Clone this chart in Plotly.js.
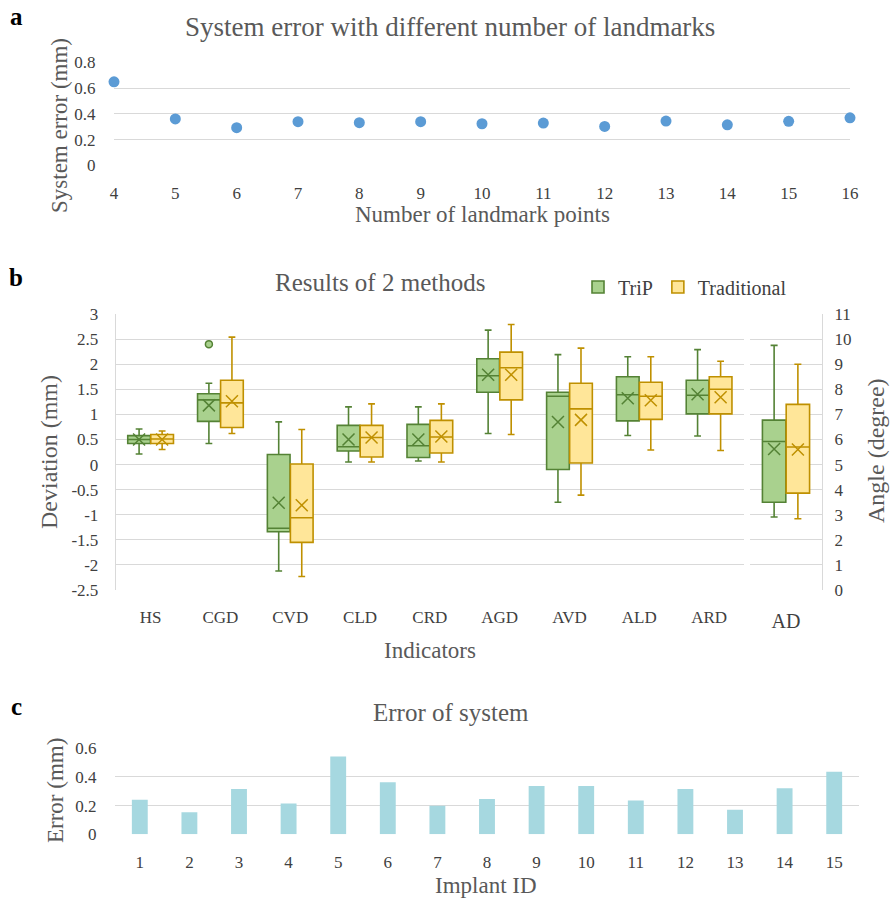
<!DOCTYPE html>
<html>
<head>
<meta charset="utf-8">
<script src="https://cdn.plot.ly/plotly-3.0.1.min.js"></script>
<style>html,body{margin:0;padding:0;background:#fff;}#chart{width:896px;height:898px;}</style>
</head>
<body>
<div id="chart"></div>
<script>
// ---------- Panel a data ----------
const landmarkN = [4, 5, 6, 7, 8, 9, 10, 11, 12, 13, 14, 15, 16];
const sysError = [0.649, 0.360, 0.292, 0.339, 0.331, 0.339, 0.323, 0.328, 0.302, 0.344, 0.315, 0.342, 0.369];
const sysErrTicks = [0, 0.2, 0.4, 0.6, 0.8];
const sysErrTickText = ['0', '0.2', '0.4', '0.6', '0.8'];

// ---------- Panel b data (mm) ----------
const indicators = ['HS', 'CGD', 'CVD', 'CLD', 'CRD', 'AGD', 'AVD', 'ALD', 'ARD'];
const tripLower  = [0.21, 0.42, -2.12, 0.05, 0.07, 0.62, -0.75, 0.58, 0.57];
const tripQ1     = [0.42, 0.86, -1.34, 0.27, 0.14, 1.44, -0.10, 0.87, 1.01];
const tripMedian = [0.50, 1.29, -1.27, 0.355, 0.375, 1.77, 1.36, 1.39, 1.38];
const tripQ3     = [0.576, 1.41, 0.20, 0.78, 0.80, 2.11, 1.44, 1.75, 1.68];
const tripUpper  = [0.71, 1.62, 0.85, 1.15, 1.15, 2.68, 2.19, 2.15, 2.29];
const tripMean   = [0.50, 1.18, -0.76, 0.50, 0.50, 1.79, 0.85, 1.32, 1.40];
const tripOutlierCat = ['CGD'];
const tripOutlierVal = [2.40];

const tradLower  = [0.30, 0.62, -2.23, 0.05, 0.05, 0.60, -0.61, 0.29, 0.28];
const tradQ1     = [0.42, 0.74, -1.55, 0.15, 0.23, 1.29, 0.03, 0.90, 1.01];
const tradMedian = [0.51, 1.23, -1.06, 0.54, 0.55, 1.93, 1.11, 1.36, 1.50];
const tradQ3     = [0.60, 1.68, 0.01, 0.78, 0.88, 2.24, 1.62, 1.64, 1.75];
const tradUpper  = [0.67, 2.54, 0.70, 1.21, 1.21, 2.79, 2.32, 2.15, 2.06];
const tradMean   = [0.50, 1.26, -0.81, 0.54, 0.56, 1.79, 0.89, 1.28, 1.34];

const devTicks = [-2.5, -2, -1.5, -1, -0.5, 0, 0.5, 1, 1.5, 2, 2.5, 3];
const devTickText = ['-2.5', '-2', '-1.5', '-1', '-0.5', '0', '0.5', '1', '1.5', '2', '2.5', '3'];

// AD (degree)
const adCat = ['AD'];
const adTrip = {lower: [2.91], q1: [3.50], median: [5.92], q3: [6.77], upper: [9.75], mean: [5.62]};
const adTrad = {lower: [2.84], q1: [3.86], median: [5.70], q3: [7.40], upper: [9.00], mean: [5.60]};
const angleTicks = [0, 1, 2, 3, 4, 5, 6, 7, 8, 9, 10, 11];

// ---------- Panel c data ----------
const implantID = [1, 2, 3, 4, 5, 6, 7, 8, 9, 10, 11, 12, 13, 14, 15];
const implantErr = [0.240, 0.154, 0.315, 0.215, 0.542, 0.362, 0.198, 0.245, 0.336, 0.336, 0.236, 0.315, 0.170, 0.321, 0.436];
const errTicks = [0, 0.2, 0.4, 0.6];
const errTickText = ['0', '0.2', '0.4', '0.6'];

// ---------- styling ----------
const W = 896, H = 898;
const px = x => x / W;
const py = y => 1 - y / H;
const FONT = 'Liberation Serif, Times New Roman, serif';
const GRID = '#D9D9D9';
const TXT = '#595959';
const TICK = '#404040';
const greenFill = '#A9D18E', greenLine = '#548235';
const goldFill = '#FFE699', goldLine = '#BF9000';
const OFF = 0.165, BW = 0.325;

const catIdx = indicators.map((c, i) => i);
const xTrip = catIdx.map(i => i - OFF);
const xTrad = catIdx.map(i => i + OFF);
const outX = tripOutlierCat.map(c => indicators.indexOf(c) - OFF);

const meanMarker = col => ({symbol: 'x-thin-open', size: 12, color: col, line: {color: col, width: 1.5}});

const traces = [
  // panel a
  {type: 'scatter', mode: 'markers', x: landmarkN, y: sysError, xaxis: 'x', yaxis: 'y',
   marker: {color: '#5B9BD5', size: 11}, cliponaxis: false, showlegend: false},
  // panel b boxes
  {type: 'box', name: 'TriP', x: xTrip, q1: tripQ1, median: tripMedian, q3: tripQ3,
   lowerfence: tripLower, upperfence: tripUpper, width: BW, whiskerwidth: 0.3, boxpoints: false,
   fillcolor: greenFill, line: {color: greenLine, width: 1.6}, xaxis: 'x2', yaxis: 'y2'},
  {type: 'box', name: 'Traditional', x: xTrad, q1: tradQ1, median: tradMedian, q3: tradQ3,
   lowerfence: tradLower, upperfence: tradUpper, width: BW, whiskerwidth: 0.3, boxpoints: false,
   fillcolor: goldFill, line: {color: goldLine, width: 1.6}, xaxis: 'x2', yaxis: 'y2'},
  {type: 'scatter', mode: 'markers', x: xTrip, y: tripMean, xaxis: 'x2', yaxis: 'y2', showlegend: false,
   marker: meanMarker(greenLine)},
  {type: 'scatter', mode: 'markers', x: xTrad, y: tradMean, xaxis: 'x2', yaxis: 'y2', showlegend: false,
   marker: meanMarker(goldLine)},
  {type: 'scatter', mode: 'markers', x: outX, y: tripOutlierVal, xaxis: 'x2', yaxis: 'y2', showlegend: false,
   marker: {symbol: 'circle', size: 7, color: greenFill, line: {color: greenLine, width: 1.5}}},
  // AD
  {type: 'box', name: 'TriP', x: [-OFF], q1: adTrip.q1, median: adTrip.median, q3: adTrip.q3,
   lowerfence: adTrip.lower, upperfence: adTrip.upper, width: BW, whiskerwidth: 0.3, boxpoints: false,
   fillcolor: greenFill, line: {color: greenLine, width: 1.6}, xaxis: 'x3', yaxis: 'y3', showlegend: false},
  {type: 'box', name: 'Traditional', x: [OFF], q1: adTrad.q1, median: adTrad.median, q3: adTrad.q3,
   lowerfence: adTrad.lower, upperfence: adTrad.upper, width: BW, whiskerwidth: 0.3, boxpoints: false,
   fillcolor: goldFill, line: {color: goldLine, width: 1.6}, xaxis: 'x3', yaxis: 'y3', showlegend: false},
  {type: 'scatter', mode: 'markers', x: [-OFF], y: adTrip.mean, xaxis: 'x3', yaxis: 'y3', showlegend: false,
   marker: meanMarker(greenLine)},
  {type: 'scatter', mode: 'markers', x: [OFF], y: adTrad.mean, xaxis: 'x3', yaxis: 'y3', showlegend: false,
   marker: meanMarker(goldLine)},
  // panel c
  {type: 'bar', x: implantID, y: implantErr, xaxis: 'x4', yaxis: 'y4', showlegend: false,
   marker: {color: '#A6D8E0'}}
];

const tickFont = {family: FONT, size: 17, color: TICK};
const hidTick = {ticks: 'outside', tickcolor: 'rgba(0,0,0,0)'};

const layout = {
  width: W, height: H,
  margin: {l: 0, r: 0, t: 0, b: 0},
  paper_bgcolor: '#fff', plot_bgcolor: 'rgba(0,0,0,0)',
  font: {family: FONT, color: TXT},
  showlegend: true,
  boxmode: 'overlay',
  bargap: 0.68,
  legend: {orientation: 'h', x: px(578), y: py(287), xanchor: 'left', yanchor: 'middle',
           font: {family: FONT, size: 20, color: TICK}, bgcolor: 'rgba(0,0,0,0)', itemwidth: 30,
           traceorder: 'normal'},
  // panel a
  xaxis: {domain: [px(114), px(850)], range: [4, 16], tickvals: landmarkN, showgrid: false, zeroline: false,
          showline: false, tickfont: tickFont, ...hidTick, ticklen: 12, anchor: 'y'},
  yaxis: {domain: [py(165.3), py(62.3)], range: [0, 0.8005], tickvals: sysErrTicks, ticktext: sysErrTickText,
          gridcolor: GRID, gridwidth: 1, zeroline: false, showline: false, tickfont: tickFont,
          ...hidTick, ticklen: 14, anchor: 'x'},
  // panel b left
  xaxis2: {domain: [px(115.7), px(744)], range: [-0.5, 8.5], tickvals: catIdx, ticktext: indicators,
           showgrid: false, zeroline: false, showline: false, tickfont: tickFont, ...hidTick, ticklen: 12, anchor: 'y2'},
  yaxis2: {domain: [py(590), py(314)], range: [-2.5, 3.0005], tickvals: devTicks, ticktext: devTickText,
           gridcolor: GRID, zeroline: false, showline: true, linecolor: GRID, linewidth: 1,
           tickfont: tickFont, ...hidTick, ticklen: 13, anchor: 'x2'},
  // panel b AD
  xaxis3: {domain: [px(750), px(822)], range: [-0.5, 0.5], tickvals: [0], ticktext: adCat,
           showgrid: false, zeroline: false, showline: false, tickfont: {family: FONT, size: 20, color: TICK},
           ...hidTick, ticklen: 13, anchor: 'y3'},
  yaxis3: {domain: [py(590), py(314)], range: [0, 11.001], tickvals: angleTicks, side: 'right', gridcolor: GRID,
           zeroline: false, showline: true, linecolor: GRID, linewidth: 1, tickfont: tickFont,
           ...hidTick, ticklen: 8, anchor: 'x3'},
  // panel c
  xaxis4: {domain: [px(115), px(859)], range: [0.5, 15.5], tickvals: implantID, showgrid: false, zeroline: false,
           showline: false, tickfont: tickFont, ...hidTick, ticklen: 12, anchor: 'y4'},
  yaxis4: {domain: [py(834.3), py(748)], range: [0, 0.6005], tickvals: errTicks, ticktext: errTickText,
           gridcolor: GRID, zeroline: false, showline: false, tickfont: tickFont, ...hidTick, ticklen: 14, anchor: 'x4'},
  annotations: [
    // panel labels
    {text: '<b>a</b>', x: px(16), y: py(16), font: {family: FONT, size: 25, color: '#000'}},
    {text: '<b>b</b>', x: px(16), y: py(277), font: {family: FONT, size: 25, color: '#000'}},
    {text: '<b>c</b>', x: px(16), y: py(706), font: {family: FONT, size: 25, color: '#000'}},
    // titles
    {text: 'System error with different number of landmarks', x: px(450), y: py(27), font: {family: FONT, size: 27, color: TXT}},
    {text: 'Results of 2 methods', x: px(380), y: py(283), font: {family: FONT, size: 25, color: TXT}},
    {text: 'Error of system', x: px(451), y: py(712), font: {family: FONT, size: 25, color: TXT}},
    // axis titles
    {text: 'Number of landmark points', x: px(482), y: py(215), font: {family: FONT, size: 23, color: TXT}},
    {text: 'System error (mm)', x: px(60), y: py(126), textangle: -90, font: {family: FONT, size: 23, color: TXT}},
    {text: 'Indicators', x: px(430), y: py(650), font: {family: FONT, size: 23, color: TXT}},
    {text: 'Deviation (mm)', x: px(49), y: py(452), textangle: -90, font: {family: FONT, size: 24, color: TXT}},
    {text: 'Angle (degree)', x: px(876), y: py(451), textangle: -90, font: {family: FONT, size: 24, color: TXT}},
    {text: 'Implant ID', x: px(486), y: py(885), font: {family: FONT, size: 23, color: TXT}},
    {text: 'Error (mm)', x: px(55), y: py(791), textangle: -90, font: {family: FONT, size: 23, color: TXT}}
  ].map(a => Object.assign({xref: 'paper', yref: 'paper', showarrow: false, xanchor: 'center', yanchor: 'middle'}, a))
};

Plotly.newPlot('chart', traces, layout, {staticPlot: true, displayModeBar: false});
</script>
</body>
</html>
